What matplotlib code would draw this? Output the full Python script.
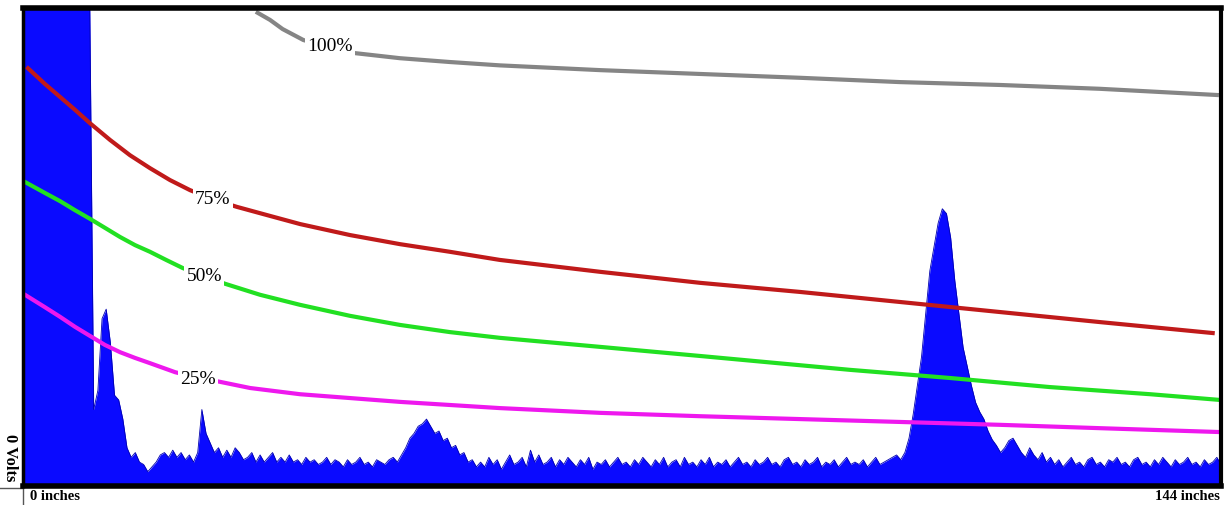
import numpy as np
import matplotlib
matplotlib.use("Agg")
import matplotlib.pyplot as plt

# signal level (percent of full scale) every 0.5 inch, 0..144 in
sig = [
    105, 105, 105, 105, 105, 105, 105, 105, 105, 105,
    105, 105, 105, 105, 105, 105, 105, 16, 20, 35,
    37, 30, 19, 18, 14, 8, 6, 7, 5, 4.5,
    3, 4, 5, 6.5, 7, 6, 7.5, 6, 7, 5.5,
    6.5, 5, 7, 16, 11, 9, 7, 8, 6, 7.5,
    6, 8, 7, 5.5, 6, 7, 5, 6.5, 5, 6,
    7, 5, 6, 5, 6.5, 5, 5.5, 4.5, 6, 5,
    5.5, 4.5, 5, 6, 4.5, 5.5, 5, 4, 5.5, 4.5,
    5, 6, 4.5, 5, 4, 5.5, 5, 4.5, 5.5, 6,
    5, 6.5, 8, 10, 11, 12.5, 13, 14, 12.5, 11,
    11.5, 9.5, 10, 8, 8.5, 6.5, 7, 5, 5.5, 4,
    5, 4, 6, 4.5, 5.5, 3.5, 5, 6.5, 4.5, 5,
    6, 4, 7.5, 5, 6.5, 4.5, 5, 6, 4, 5.5,
    4.5, 6, 5, 4, 5.5, 4.5, 6, 3.5, 5, 4.5,
    5.5, 4, 5, 6, 4.5, 5, 4, 5.5, 4.5, 6,
    5, 4, 5.5, 4.5, 6, 4, 5, 5.5, 4, 6,
    4.5, 5, 4, 5.5, 4.5, 6, 4, 5, 4.5, 5.5,
    4, 5, 6, 4.5, 5, 4, 5.5, 4.5, 5, 6,
    4.5, 5, 4, 5.5, 6, 4.5, 5, 4, 5.5, 4.5,
    5, 6, 4, 5, 4.5, 5.5, 4, 5, 6, 4.5,
    5, 4.5, 5.5, 4, 5, 6, 4.5, 5, 5.5, 6,
    6.5, 5.5, 7, 10, 15, 21, 27, 36, 45, 50,
    55, 58, 57, 52, 43, 36, 29, 25, 21, 17.5,
    15.5, 14, 11.5, 9.7, 8.5, 7, 8, 9.5, 10, 8.5,
    7, 6, 8, 6.5, 5.5, 7, 5, 6, 4.5, 5.5,
    4, 5, 6, 4.5, 5, 4, 5.5, 6, 4.5, 5,
    4, 5.5, 5, 6, 4.5, 5, 4, 5.5, 6, 4.5,
    5, 4, 5.5, 4.5, 6, 5, 4, 5.5, 4.5, 5,
    6, 4.5, 5, 4, 5.5, 4.5, 5, 6, 4.5,
]
sig_x = np.arange(len(sig)) * 0.5

# threshold curves (inches, percent)
c100_x = [28.2, 29.7, 31.2, 33.7, 36.9, 39.7, 45.3, 51.3, 57.3, 69.4, 81.4, 93.4, 105.4, 117.4, 129.4, 143.5]
c100_y = [99.0, 97.5, 95.6, 93.3, 91.8, 90.6, 89.5, 88.7, 88.0, 87.0, 86.2, 85.4, 84.5, 83.9, 83.1, 81.8]

c75_x = [0.6, 2.64, 4.45, 6.25, 8.05, 10.46, 12.86, 15.26, 17.67, 20.07, 22.8, 25.7, 29.7, 33.3, 39.3, 45.3,
         51.3, 57.3, 69.4, 81.4, 93.4, 105.4, 117.4, 129.4, 143.0]
c75_y = [87.4, 84.1, 81.4, 78.7, 75.9, 72.4, 69.2, 66.5, 64.0, 61.9, 60.0, 58.4, 56.5, 54.8, 52.5, 50.6,
         49.0, 47.3, 44.8, 42.5, 40.6, 38.5, 36.4, 34.3, 32.0]

c50_x = [0.24, 2.64, 4.45, 6.25, 8.05, 9.86, 11.66, 13.46, 15.26, 17.2, 19.2, 21.8, 24.3, 28.5, 33.3, 39.3,
         45.3, 51.3, 57.3, 69.4, 81.4, 99.4, 111.4, 123.4, 135.5, 143.9]
c50_y = [63.6, 61.3, 59.6, 57.7, 55.9, 54.0, 52.1, 50.4, 49.0, 47.3, 45.6, 43.9, 42.3, 40.0, 37.9, 35.6,
         33.7, 32.2, 31.0, 29.1, 27.2, 24.3, 22.6, 20.7, 19.2, 18.0]

c25_x = [0.24, 2.64, 4.45, 6.25, 8.05, 9.86, 11.66, 13.46, 15.26, 18.3, 20.7, 23.1, 27.3, 33.3, 39.3, 45.3,
         57.3, 69.4, 81.4, 93.4, 105.4, 117.4, 129.4, 143.6]
c25_y = [40.0, 37.4, 35.4, 33.3, 31.4, 29.5, 28.0, 26.8, 25.7, 23.8, 22.8, 22.0, 20.5, 19.2, 18.4, 17.6,
         16.3, 15.3, 14.6, 14.0, 13.4, 12.8, 12.1, 11.3]

labels = ["100%", "75%", "50%", "25%"]
label_x = [36.9, 22.8, 21.8, 21.0]
label_y = [91.9, 60.0, 43.9, 22.2]

fig = plt.figure(figsize=(12.25, 5.05), dpi=100)
ax = fig.add_axes([23 / 1225, 1 - 486 / 505, 1198 / 1225, 478 / 505])

ax.fill_between(sig_x, 0, sig, color="#0a0aff", linewidth=0)
ax.plot(sig_x, sig, color="#0000b0", lw=0.6)

ax.plot(c100_x, c100_y, color="#858585", lw=3)
ax.plot(c75_x, c75_y, color="#c01a1a", lw=3)
ax.plot(c50_x, c50_y, color="#22e022", lw=3)
ax.plot(c25_x, c25_y, color="#ee18ee", lw=3)

for t, x, y in zip(labels, label_x, label_y):
    ax.text(x, y, t, ha="center", va="center", fontsize=14, family="Liberation Serif",
            bbox=dict(facecolor="white", edgecolor="none", pad=1.5))

ax.set_xlim(0, 144)
ax.set_ylim(0, 100)
ax.set_xticks([])
ax.set_yticks([])
for s in ax.spines.values():
    s.set_linewidth(4)
    s.set_color("black")
ax.spines["left"].set_linewidth(2.5)
ax.spines["right"].set_linewidth(3)

# little tick mark at origin
ax.plot([-0.15, 0], [-0.005, -0.005], transform=ax.transAxes, color="#555555", lw=1, clip_on=False)
ax.plot([0, 0], [0, -0.04], transform=ax.transAxes, color="#555555", lw=1, clip_on=False)

fig.text(10 / 1225, 1 - 458 / 505, "0 Volts", rotation=270, ha="center", va="center",
         fontsize=12, fontweight="bold", family="Liberation Serif")
fig.text(30 / 1225, 1 - 497 / 505, "0 inches", ha="left", va="center",
         fontsize=10.5, fontweight="bold", family="Liberation Serif")
fig.text(1220 / 1225, 1 - 497 / 505, "144 inches", ha="right", va="center",
         fontsize=10.5, fontweight="bold", family="Liberation Serif")

fig.savefig("out.png", dpi=100)
